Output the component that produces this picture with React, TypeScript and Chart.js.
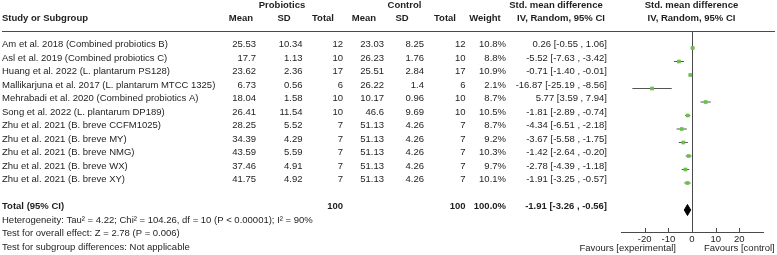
import { useEffect, useRef } from 'react';
import { Chart, registerables } from 'chart.js';

Chart.register(...registerables);

const studies = [
  'Am et al. 2018 (Combined probiotics B)',
  'Asl et al. 2019 (Combined probiotics C)',
  'Huang et al. 2022 (L. plantarum PS128)',
  'Mallikarjuna et al. 2017 (L. plantarum MTCC 1325)',
  'Mehrabadi et al. 2020 (Combined probiotics A)',
  'Song et al. 2022 (L. plantarum DP189)',
  'Zhu et al. 2021 (B. breve CCFM1025)',
  'Zhu et al. 2021 (B. breve MY)',
  'Zhu et al. 2021 (B. breve NMG)',
  'Zhu et al. 2021 (B. breve WX)',
  'Zhu et al. 2021 (B. breve XY)',
];
const probMean = [25.53, 17.7, 23.62, 6.73, 18.04, 26.41, 28.25, 34.39, 43.59, 37.46, 41.75];
const probSD = [10.34, 1.13, 2.36, 0.56, 1.58, 11.54, 5.52, 4.29, 5.59, 4.91, 4.92];
const probTotal = [12, 10, 17, 6, 10, 10, 7, 7, 7, 7, 7];
const ctrlMean = [23.03, 26.23, 25.51, 26.22, 10.17, 46.6, 51.13, 51.13, 51.13, 51.13, 51.13];
const ctrlSD = [8.25, 1.76, 2.84, 1.4, 0.96, 9.69, 4.26, 4.26, 4.26, 4.26, 4.26];
const ctrlTotal = [12, 10, 17, 6, 10, 10, 7, 7, 7, 7, 7];
const weights = [10.8, 8.8, 10.9, 2.1, 8.7, 10.5, 8.7, 9.2, 10.3, 9.7, 10.1];
const smd = [0.26, -5.52, -0.71, -16.87, 5.77, -1.81, -4.34, -3.67, -1.42, -2.78, -1.91];
const ciLow = [-0.55, -7.63, -1.4, -25.19, 3.59, -2.89, -6.51, -5.58, -2.64, -4.39, -3.25];
const ciHigh = [1.06, -3.42, -0.01, -8.56, 7.94, -0.74, -2.18, -1.75, -0.2, -1.18, -0.57];

const totalProb = 100;
const totalCtrl = 100;
const totalWeight = 100.0;
const pooled = { est: -1.91, lo: -3.26, hi: -0.56 };
const tickValues = [-20, -10, 0, 10, 20];
const footerLines = [
  'Heterogeneity: Tau\u00b2 = 4.22; Chi\u00b2 = 104.26, df = 10 (P < 0.00001); I\u00b2 = 90%',
  'Test for overall effect: Z = 2.78 (P = 0.006)',
  'Test for subgroup differences: Not applicable',
];

const FONT = '"Liberation Sans", Arial, sans-serif';
const TXT = '#1e1e1e';

export default function App() {
  const ref = useRef<HTMLCanvasElement | null>(null);

  useEffect(() => {
    document.body.style.margin = '0';
    const canvas = ref.current;
    if (!canvas) return;

    const whiskers: { x: number; y: number }[] = [];
    studies.forEach((_, i) => {
      whiskers.push({ x: ciLow[i], y: i }, { x: ciHigh[i], y: i }, { x: NaN, y: NaN });
    });
    const totalRow = studies.length + 1;
    const diamond = [
      { x: pooled.lo, y: totalRow },
      { x: pooled.est, y: totalRow - 0.41 },
      { x: pooled.hi, y: totalRow },
      { x: pooled.est, y: totalRow + 0.41 },
      { x: pooled.lo, y: totalRow },
    ];

    const textPlugin = {
      id: 'forestText',
      afterDraw(chart: any) {
        const ctx = chart.ctx as CanvasRenderingContext2D;
        const ys = chart.scales.y;
        const xs = chart.scales.x;
        const rowY = (i: number) => ys.getPixelForValue(i) - 3.5;
        ctx.save();
        ctx.fillStyle = TXT;
        ctx.textBaseline = 'middle';
        const t = (s: string, x: number, y: number, align: CanvasTextAlign = 'right', bold = false) => {
          ctx.font = `${bold ? 'bold ' : ''}9.5px ${FONT}`;
          ctx.textAlign = align;
          ctx.fillText(s, x, y);
        };
        // headers
        t('Probiotics', 282, 5.5, 'center', true);
        t('Control', 404.5, 5.5, 'center', true);
        t('Std. mean difference', 556, 5.5, 'center', true);
        t('Std. mean difference', 691.5, 5.5, 'center', true);
        t('Study or Subgroup', 2, 18.5, 'left', true);
        t('Mean', 241, 18.5, 'center', true);
        t('SD', 284, 18.5, 'center', true);
        t('Total', 323, 18.5, 'center', true);
        t('Mean', 364, 18.5, 'center', true);
        t('SD', 402, 18.5, 'center', true);
        t('Total', 445, 18.5, 'center', true);
        t('Weight', 485, 18.5, 'center', true);
        t('IV, Random, 95% CI', 561, 18.5, 'center', true);
        t('IV, Random, 95% CI', 691.5, 18.5, 'center', true);
        // header rule
        ctx.strokeStyle = '#4a4a4a';
        ctx.lineWidth = 1.2;
        ctx.beginPath();
        ctx.moveTo(2, 31.5);
        ctx.lineTo(775, 31.5);
        ctx.stroke();
        // study rows
        studies.forEach((s, i) => {
          const y = rowY(i);
          t(s, 2, y, 'left');
          t(String(probMean[i]), 256, y);
          t(String(probSD[i]), 302.5, y);
          t(String(probTotal[i]), 343, y);
          t(String(ctrlMean[i]), 384, y);
          t(String(ctrlSD[i]), 424, y);
          t(String(ctrlTotal[i]), 465.5, y);
          t(weights[i].toFixed(1) + '%', 506, y);
          t(`${smd[i].toFixed(2)} [${ciLow[i].toFixed(2)} , ${ciHigh[i].toFixed(2)}]`, 607, y);
        });
        // total row
        const ty = rowY(totalRow);
        t('Total (95% CI)', 2, ty, 'left', true);
        t(String(totalProb), 343, ty, 'right', true);
        t(String(totalCtrl), 465.5, ty, 'right', true);
        t(totalWeight.toFixed(1) + '%', 506, ty, 'right', true);
        t(`${pooled.est.toFixed(2)} [${pooled.lo.toFixed(2)} , ${pooled.hi.toFixed(2)}]`, 607, ty, 'right', true);
        footerLines.forEach((s, k) => t(s, 2, rowY(totalRow + 1 + k), 'left'));
        // tick marks (upward)
        ctx.strokeStyle = '#4a4a4a';
        ctx.lineWidth = 1;
        const ay = chart.chartArea.bottom;
        xs.ticks.forEach((tk: any) => {
          const px = Math.round(xs.getPixelForValue(tk.value)) + 0.5;
          ctx.beginPath();
          ctx.moveTo(px, ay - 4);
          ctx.lineTo(px, ay);
          ctx.stroke();
        });
        t('Favours [experimental]', 676, 248.5, 'right');
        t('Favours [control]', 704, 248.5, 'left');
        ctx.restore();
      },
    };

    const chart = new Chart(canvas, {
      type: 'scatter',
      data: {
        datasets: [
          {
            data: smd.map((v, i) => ({ x: v, y: i })),
            pointStyle: 'rect',
            pointRadius: 2.6,
            pointBackgroundColor: '#6cbf4c',
            pointBorderWidth: 0,
            order: 0,
          },
          {
            data: whiskers,
            showLine: true,
            borderColor: '#555555',
            borderWidth: 1,
            pointRadius: 0,
            spanGaps: false,
            order: 1,
          },
          {
            data: diamond,
            showLine: true,
            borderColor: '#000000',
            borderWidth: 1,
            backgroundColor: '#000000',
            fill: 'shape',
            pointRadius: 0,
            order: 0,
          } as any,
        ],
      },
      options: {
        animation: false,
        responsive: false,
        devicePixelRatio: 1,
        layout: { padding: { left: 621, right: 14, top: 31, bottom: 0 } },
        plugins: { legend: { display: false }, tooltip: { enabled: false } },
        scales: {
          x: {
            type: 'linear',
            min: -30,
            max: 30,
            afterBuildTicks: (s: any) => {
              s.ticks = tickValues.map((v) => ({ value: v }));
            },
            afterFit: (s: any) => {
              s.height = 23;
            },
            grid: {
              drawTicks: false,
              color: (c: any) => (c.tick && c.tick.value === 0 ? '#4a4a4a' : 'rgba(0,0,0,0)'),
              lineWidth: 1,
            },
            border: { display: true, color: '#4a4a4a', width: 1 },
            ticks: {
              padding: 2,
              color: TXT,
              font: { family: FONT, size: 9.5 },
            },
          },
          y: {
            type: 'linear',
            display: false,
            reverse: true,
            min: -1.26,
            max: 13.63,
          },
        },
      },
      plugins: [textPlugin],
    });
    return () => chart.destroy();
  }, []);

  return (
    <div style={{ position: 'absolute', left: 0, top: 0, width: 777, height: 255 }}>
      <canvas ref={ref} width={777} height={255} style={{ width: 777, height: 255, display: 'block' }} />
    </div>
  );
}
